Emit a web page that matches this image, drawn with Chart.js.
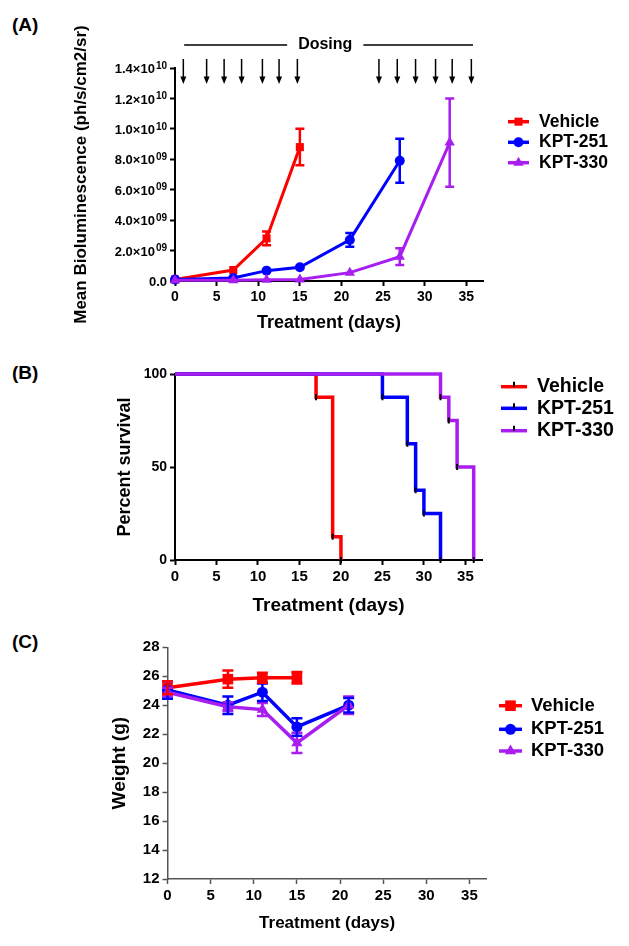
<!DOCTYPE html>
<html>
<head>
<meta charset="utf-8">
<script src="https://cdn.jsdelivr.net/npm/chart.js@4.4.0/dist/chart.umd.min.js"></script>
<style>
  body { margin: 0; background: #fff; width: 629px; height: 946px; position: relative; overflow: hidden; font-family: "Liberation Sans", Arial, sans-serif; }
  canvas { position: absolute; left: 0; }
  .tag { position: absolute; left: 12px; font-weight: bold; font-size: 19px; line-height: 19px; }
</style>
</head>
<body>
<div class="tag" style="top:15px">(A)</div>
<div class="tag" style="top:363px">(B)</div>
<div class="tag" style="top:632px">(C)</div>
<canvas id="chartA" width="629" height="340" style="top:0px"></canvas>
<canvas id="chartB" width="629" height="300" style="top:330px"></canvas>
<canvas id="chartC" width="629" height="321" style="top:625px"></canvas>
<script>
// ---------- data ----------
var groups = ['Vehicle', 'KPT-251', 'KPT-330'];
var colors = ['#ff0000', '#0000ff', '#a81ef0'];
var dayTicks = [0, 5, 10, 15, 20, 25, 30, 35];

// (A) mean bioluminescence
var bioDaysVehicle = [0, 7, 11, 15];
var bioVehicle = [1.0e8, 7.2e8, 2.8e9, 8.8e9];
var bioVehicleErr = [0, 0, 4.5e8, 1.2e9];
var bioDays251 = [0, 7, 11, 15, 21, 27];
var bio251 = [1.0e8, 2.0e8, 6.8e8, 9.0e8, 2.7e9, 7.9e9];
var bio251Err = [0, 0, 0, 0, 4.5e8, 1.45e9];
var bioDays330 = [0, 7, 11, 15, 21, 27, 33];
var bio330 = [5e7, 5e7, 8e7, 1e8, 5.5e8, 1.6e9, 9.1e9];
var bio330Err = [0, 0, 0, 0, 0, 5.5e8, 2.9e9];
var bioTicks = [0, 2e9, 4e9, 6e9, 8e9, 1e10, 1.2e10, 1.4e10];
var dosingDays = [1, 3.8, 5.9, 8, 10.5, 12.5, 14.7, 24.5, 26.7, 28.9, 31.3, 33.3, 35.6];

// (B) percent survival
var survDaysVehicle = [0, 17, 19, 20];
var survVehicle = [100, 87.5, 12.5, 0];
var survDays251 = [0, 25, 28, 29, 30, 32];
var surv251 = [100, 87.5, 62.5, 37.5, 25, 0];
var survDays330 = [0, 32, 33, 34, 36];
var surv330 = [100, 87.5, 75, 50, 0];
var survTicks = [0, 50, 100];

// (C) weight
var wDaysVehicle = [0, 7, 11, 15];
var wVehicle = [25.2, 25.8, 25.9, 25.9];
var wVehicleErr = [0.45, 0.6, 0.35, 0.4];
var wDays = [0, 7, 11, 15, 21];
var w251 = [25.05, 24.0, 24.9, 22.5, 24.0];
var w251Err = [0.6, 0.6, 0.6, 0.6, 0.5];
var w330 = [24.9, 23.9, 23.7, 21.4, 24.0];
var w330Err = [0.3, 0.3, 0.45, 0.7, 0.6];
var weightTicks = [12, 14, 16, 18, 20, 22, 24, 26, 28];

// ---------- helpers ----------
var FONT = '"Liberation Sans", Arial, sans-serif';

function pts(xs, ys) {
  return xs.map(function (x, i) { return { x: x, y: ys[i] }; });
}

function series(i, style, radius, xs, ys, err, lw, cap) {
  return {
    label: groups[i], data: pts(xs, ys),
    borderColor: colors[i], backgroundColor: colors[i],
    pointBackgroundColor: colors[i], pointBorderWidth: 0,
    pointStyle: style, pointRadius: radius, pointHoverRadius: radius,
    borderWidth: lw, errorBars: err, capHalf: cap, clip: false,
    order: 2 - i
  };
}

function kmSeries(i, xs, ys) {
  return {
    label: groups[i], data: pts(xs, ys),
    borderColor: colors[i], backgroundColor: colors[i],
    stepped: 'before', borderWidth: 3.5,
    pointStyle: 'line', pointRotation: 90,
    pointRadius: xs.map(function (_, j) { return j ? 3 : 0; }),
    pointHoverRadius: 0,
    pointBorderColor: '#000', pointBorderWidth: 2,
    clip: false, order: 2 - i
  };
}

function axes(o) {
  return {
    x: {
      type: 'linear', min: 0, max: 37,
      afterBuildTicks: function (s) { s.ticks = dayTicks.map(function (v) { return { value: v }; }); },
      afterFit: function (s) { s.height = o.xHeight; },
      grid: { drawOnChartArea: false, tickLength: 5, tickWidth: o.axisWidth, tickColor: o.axisColor },
      border: { color: o.axisColor, width: o.axisWidth },
      ticks: { color: '#000', autoSkip: false, maxRotation: 0, padding: 3,
               font: { family: FONT, weight: 'bold', size: o.xTickSize } },
      title: { display: true, text: 'Treatment (days)', color: '#000', padding: 0,
               font: { family: FONT, weight: 'bold', size: o.xTitleSize } }
    },
    y: {
      min: o.yTicks[0], max: o.yTicks[o.yTicks.length - 1],
      afterBuildTicks: function (s) { s.ticks = o.yTicks.map(function (v) { return { value: v }; }); },
      afterFit: function (s) { s.width = o.yWidth; },
      grid: { drawOnChartArea: false, tickLength: 5, tickWidth: o.axisWidth, tickColor: o.axisColor },
      border: { color: o.axisColor, width: o.axisWidth },
      ticks: { color: '#000', autoSkip: false, padding: 3,
               callback: o.yLabel || function (v) { return v; },
               font: { family: FONT, weight: 'bold', size: o.yTickSize } },
      title: { display: true, text: o.yTitle, color: '#000', padding: 0,
               font: { family: FONT, weight: 'bold', size: o.yTitleSize } }
    }
  };
}

// error bars drawn from the y scale
var errorBars = {
  id: 'errorBars',
  afterDatasetsDraw: function (chart) {
    var ctx = chart.ctx, ys = chart.scales.y;
    for (var i = chart.data.datasets.length - 1; i >= 0; i--) {
      var ds = chart.data.datasets[i];
      if (!ds.errorBars) continue;
      var meta = chart.getDatasetMeta(i);
      ctx.save();
      ctx.strokeStyle = ds.borderColor;
      ctx.lineWidth = 2.5;
      meta.data.forEach(function (pt, j) {
        var e = ds.errorBars[j];
        if (!e) return;
        var v = ds.data[j].y;
        var top = ys.getPixelForValue(v + e), bot = ys.getPixelForValue(v - e), c = ds.capHalf;
        ctx.beginPath();
        ctx.moveTo(pt.x, top); ctx.lineTo(pt.x, bot);
        ctx.moveTo(pt.x - c, top); ctx.lineTo(pt.x + c, top);
        ctx.moveTo(pt.x - c, bot); ctx.lineTo(pt.x + c, bot);
        ctx.stroke();
      });
      ctx.restore();
    }
  }
};

// legend at the right side of each panel
var sideLegend = {
  id: 'sideLegend',
  afterDraw: function (chart, args, o) {
    var ctx = chart.ctx;
    chart.data.datasets.forEach(function (ds, i) {
      var y = o.ys[i], mx = (o.x0 + o.x1) / 2;
      ctx.save();
      ctx.strokeStyle = ds.borderColor;
      ctx.lineWidth = 3.5;
      ctx.beginPath(); ctx.moveTo(o.x0, y); ctx.lineTo(o.x1, y); ctx.stroke();
      if (o.tick) {
        ctx.strokeStyle = '#000'; ctx.lineWidth = 2;
        ctx.beginPath(); ctx.moveTo(mx, y); ctx.lineTo(mx, y - 5); ctx.stroke();
      } else {
        ctx.fillStyle = ds.borderColor;
        Chart.helpers.drawPoint(ctx, { pointStyle: ds.pointStyle, radius: ds.pointRadius, borderWidth: 0, rotation: 0 }, mx, y);
      }
      ctx.fillStyle = '#000';
      ctx.font = 'bold ' + o.size + 'px ' + FONT;
      ctx.textBaseline = 'middle';
      ctx.textAlign = 'left';
      ctx.fillText(ds.label, o.tx, y);
      ctx.restore();
    });
  }
};

// (A) scientific tick labels and dosing arrows
var panelAExtras = {
  id: 'panelAExtras',
  afterDraw: function (chart) {
    var ctx = chart.ctx, xs = chart.scales.x, ysc = chart.scales.y;
    ctx.save();
    ctx.fillStyle = '#000';
    ctx.textBaseline = 'middle';
    ctx.textAlign = 'right';
    var right = ysc.right - 8;
    ysc.ticks.forEach(function (t) {
      var y = ysc.getPixelForValue(t.value);
      if (t.value === 0) {
        ctx.font = 'bold 13px ' + FONT;
        ctx.fillText('0.0', right, y + 1);
        return;
      }
      var e = Math.floor(Math.log10(t.value) + 1e-9);
      var base = (t.value / Math.pow(10, e)).toFixed(1) + '\u00d710';
      var exp = (e < 10 ? '0' : '') + e;
      ctx.font = 'bold 10px ' + FONT;
      var ew = ctx.measureText(exp).width;
      ctx.fillText(exp, right, y - 2);
      ctx.font = 'bold 13px ' + FONT;
      ctx.fillText(base, right - ew - 1, y + 1.5);
    });

    // dosing bar
    ctx.strokeStyle = '#000';
    ctx.lineWidth = 1.5;
    var x0 = xs.getPixelForValue(1.1), x1 = xs.getPixelForValue(35.8), xc = xs.getPixelForValue(18.05);
    ctx.font = 'bold 16px ' + FONT;
    ctx.textAlign = 'center';
    ctx.fillText('Dosing', xc, 45);
    var half = ctx.measureText('Dosing').width / 2 + 11;
    ctx.beginPath();
    ctx.moveTo(x0, 45); ctx.lineTo(xc - half, 45);
    ctx.moveTo(xc + half, 45); ctx.lineTo(x1, 45);
    ctx.stroke();

    dosingDays.forEach(function (d) {
      var x = xs.getPixelForValue(d);
      ctx.beginPath(); ctx.moveTo(x, 59); ctx.lineTo(x, 78); ctx.stroke();
      ctx.beginPath(); ctx.moveTo(x - 3, 76.5); ctx.lineTo(x + 3, 76.5); ctx.lineTo(x, 84); ctx.closePath(); ctx.fill();
    });
    ctx.restore();
  }
};

function baseOptions(pad, scales, legend) {
  return {
    responsive: false, animation: false, events: [],
    layout: { padding: pad },
    scales: scales,
    plugins: { legend: { display: false }, tooltip: { enabled: false }, sideLegend: legend }
  };
}

// ---------- (A) ----------
new Chart('chartA', {
  type: 'line',
  data: { datasets: [
    series(0, 'rect', 5.7, bioDaysVehicle, bioVehicle, bioVehicleErr, 3, 4.5),
    series(1, 'circle', 5, bioDays251, bio251, bio251Err, 3, 4.5),
    series(2, 'triangle', 6, bioDays330, bio330, bio330Err, 3, 4.5)
  ] },
  options: baseOptions(
    { left: 71.5, right: 146, top: 68, bottom: 6.2 },
    axes({ xHeight: 52.8, yWidth: 103.5, axisColor: '#000', axisWidth: 2, xTickSize: 14, xTitleSize: 18,
           yTicks: bioTicks, yLabel: function () { return ''; }, yTickSize: 13,
           yTitle: 'Mean Bioluminescence (ph/s/cm2/sr)', yTitleSize: 17 }),
    { x0: 508, x1: 529, tx: 539, ys: [121.7, 142.3, 162.7], size: 17.5 }
  ),
  plugins: [errorBars, sideLegend, panelAExtras]
});

// ---------- (B) ----------
new Chart('chartB', {
  type: 'line',
  data: { datasets: [
    kmSeries(0, survDaysVehicle, survVehicle),
    kmSeries(1, survDays251, surv251),
    kmSeries(2, survDays330, surv330)
  ] },
  options: baseOptions(
    { left: 114.2, right: 147, top: 44, bottom: 12.6 },
    axes({ xHeight: 57.4, yWidth: 60.8, axisColor: '#000', axisWidth: 2, xTickSize: 15, xTitleSize: 19,
           yTicks: survTicks, yTickSize: 14, yTitle: 'Percent survival', yTitleSize: 18 }),
    { x0: 501, x1: 527, tx: 537, ys: [56.7, 78.3, 100.7], size: 19.5, tick: true }
  ),
  plugins: [sideLegend]
});

// ---------- (C) ----------
new Chart('chartC', {
  type: 'line',
  data: { datasets: [
    series(0, 'rect', 7.5, wDaysVehicle, wVehicle, wVehicleErr, 3.5, 5.5),
    series(1, 'circle', 5.5, wDays, w251, w251Err, 3.5, 5.5),
    series(2, 'triangle', 6.5, wDays, w330, w330Err, 3.5, 5.5)
  ] },
  options: baseOptions(
    { left: 108.6, right: 142.3, top: 22.3, bottom: 12.8 },
    axes({ xHeight: 54.2, yWidth: 58.9, axisColor: '#555', axisWidth: 1.5, xTickSize: 15, xTitleSize: 17,
           yTicks: weightTicks, yTickSize: 15, yTitle: 'Weight (g)', yTitleSize: 19 }),
    { x0: 499, x1: 522, tx: 531, ys: [80.7, 104.3, 126], size: 18.5 }
  ),
  plugins: [errorBars, sideLegend]
});
</script>
</body>
</html>
